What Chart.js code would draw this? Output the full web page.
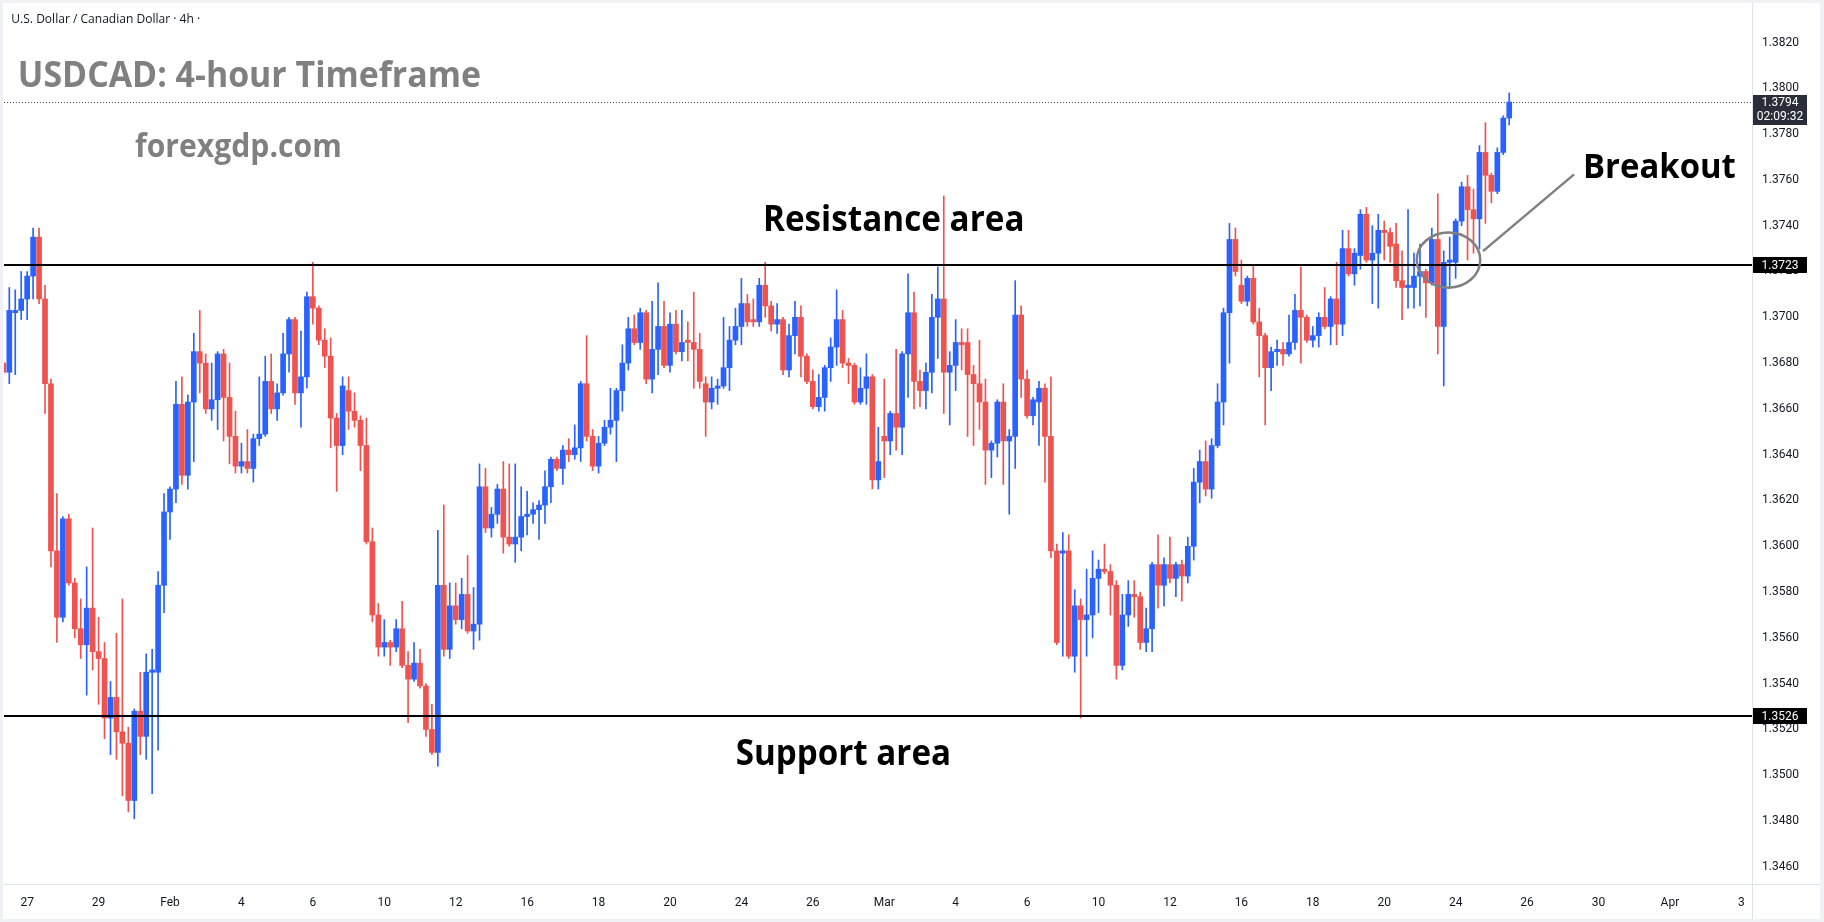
<!DOCTYPE html>
<html>
<head>
<meta charset="utf-8">
<script src="https://cdn.jsdelivr.net/npm/chart.js@4.4.1/dist/chart.umd.min.js"></script>
<style>
html,body{margin:0;padding:0;background:#ffffff;overflow:hidden}
canvas{display:block}
</style>
</head>
<body>
<canvas id="c" width="1824" height="922"></canvas>
<script>
// ---------- DATA (USDCAD, 4h candles) ----------
const opens = [
1.3680,1.3676,1.3702,1.3703,1.3708,1.3718,1.3735,1.3708,1.3671,1.3598,
1.3569,1.3612,1.3584,1.3564,1.3557,1.3573,1.3554,1.3551,1.3525,1.3534,
1.3519,1.3514,1.3489,1.3528,1.3517,1.3545,1.3545,1.3583,1.3615,1.3625,
1.3662,1.3631,1.3663,1.3685,1.3680,1.3660,1.3664,1.3684,1.3665,1.3648,
1.3635,1.3637,1.3634,1.3647,1.3649,1.3672,1.3660,1.3667,1.3684,1.3699,
1.3667,1.3674,1.3709,1.3704,1.3690,1.3683,1.3656,1.3644,1.3668,1.3659,
1.3655,1.3644,1.3602,1.3570,1.3556,1.3558,1.3556,1.3564,1.3548,1.3542,
1.3549,1.3539,1.3520,1.3510,1.3583,1.3555,1.3574,1.3568,1.3579,1.3563,
1.3566,1.3626,1.3608,1.3614,1.3625,1.3604,1.3601,1.3604,1.3613,1.3614,
1.3616,1.3618,1.3626,1.3638,1.3634,1.3642,1.3640,1.3643,1.3671,1.3648,
1.3635,1.3645,1.3652,1.3655,1.3668,1.3680,1.3695,1.3689,1.3702,1.3673,
1.3686,1.3696,1.3679,1.3697,1.3685,1.3690,1.3689,1.3686,1.3671,1.3663,
1.3669,1.3670,1.3678,1.3690,1.3696,1.3706,1.3699,1.3698,1.3714,1.3705,
1.3697,1.3699,1.3677,1.3692,1.3700,1.3683,1.3672,1.3661,1.3665,1.3678,
1.3687,1.3699,1.3680,1.3679,1.3663,1.3669,1.3674,1.3629,1.3648,1.3646,
1.3658,1.3652,1.3684,1.3702,1.3672,1.3668,1.3676,1.3700,1.3708,1.3676,
1.3679,1.3689,1.3689,1.3675,1.3671,1.3663,1.3642,1.3645,1.3663,1.3646,
1.3648,1.3701,1.3673,1.3657,1.3663,1.3669,1.3648,1.3598,1.3597,1.3598,
1.3552,1.3574,1.3568,1.3570,1.3586,1.3590,1.3589,1.3583,1.3548,1.3570,
1.3579,1.3578,1.3558,1.3564,1.3592,1.3583,1.3592,1.3586,1.3592,1.3587,
1.3600,1.3628,1.3637,1.3625,1.3644,1.3663,1.3702,1.3734,1.3714,1.3707,
1.3717,1.3698,1.3692,1.3678,1.3685,1.3686,1.3684,1.3689,1.3703,1.3700,
1.3690,1.3692,1.3700,1.3696,1.3708,1.3697,1.3730,1.3719,1.3727,1.3745,
1.3725,1.3728,1.3738,1.3737,1.3732,1.3716,1.3713,1.3713,1.3718,1.3720,
1.3715,1.3734,1.3696,1.3724,1.3724,1.3742,1.3757,1.3747,1.3743,1.3772,
1.3762,1.3755,1.3772,1.3787];

const highs = [
1.3681,1.3713,1.3712,1.3720,1.3720,1.3739,1.3739,1.3714,1.3673,1.3623,
1.3613,1.3614,1.3586,1.3577,1.3591,1.3608,1.3569,1.3558,1.3541,1.3562,
1.3577,1.3521,1.3529,1.3545,1.3553,1.3555,1.3589,1.3623,1.3626,1.3672,
1.3674,1.3666,1.3693,1.3703,1.3684,1.3680,1.3685,1.3686,1.3680,1.3659,
1.3645,1.3651,1.3649,1.3674,1.3683,1.3684,1.3671,1.3693,1.3700,1.3700,
1.3694,1.3711,1.3724,1.3705,1.3695,1.3691,1.3658,1.3674,1.3674,1.3667,
1.3657,1.3656,1.3608,1.3575,1.3568,1.3559,1.3568,1.3576,1.3554,1.3558,
1.3555,1.3540,1.3531,1.3607,1.3618,1.3584,1.3584,1.3586,1.3596,1.3582,
1.3636,1.3634,1.3617,1.3627,1.3637,1.3636,1.3636,1.3626,1.3624,1.3619,
1.3620,1.3633,1.3639,1.3639,1.3644,1.3647,1.3653,1.3672,1.3692,1.3651,
1.3648,1.3655,1.3669,1.3669,1.3688,1.3700,1.3701,1.3704,1.3703,1.3707,
1.3715,1.3707,1.3702,1.3703,1.3703,1.3698,1.3711,1.3693,1.3674,1.3674,
1.3673,1.3700,1.3696,1.3704,1.3717,1.3710,1.3708,1.3717,1.3724,1.3707,
1.3706,1.3700,1.3697,1.3707,1.3705,1.3684,1.3677,1.3675,1.3679,1.3691,
1.3712,1.3703,1.3682,1.3680,1.3678,1.3684,1.3675,1.3652,1.3673,1.3659,
1.3686,1.3685,1.3719,1.3711,1.3677,1.3680,1.3710,1.3722,1.3753,1.3685,
1.3699,1.3695,1.3695,1.3679,1.3690,1.3673,1.3646,1.3664,1.3671,1.3651,
1.3716,1.3705,1.3677,1.3665,1.3672,1.3671,1.3674,1.3601,1.3606,1.3605,
1.3581,1.3577,1.3590,1.3598,1.3594,1.3601,1.3592,1.3585,1.3579,1.3585,
1.3585,1.3580,1.3573,1.3593,1.3605,1.3595,1.3604,1.3593,1.3594,1.3604,
1.3634,1.3642,1.3646,1.3647,1.3671,1.3704,1.3741,1.3739,1.3725,1.3718,
1.3723,1.3704,1.3693,1.3687,1.3690,1.3689,1.3701,1.3710,1.3722,1.3701,
1.3696,1.3702,1.3713,1.3709,1.3724,1.3738,1.3738,1.3730,1.3747,1.3748,
1.3740,1.3745,1.3742,1.3739,1.3741,1.3729,1.3747,1.3728,1.3732,1.3721,
1.3739,1.3754,1.3729,1.3735,1.3743,1.3759,1.3762,1.3756,1.3775,1.3785,
1.3763,1.3774,1.3788,1.3798];

const lows = [
1.3675,1.3671,1.3675,1.3699,1.3699,1.3708,1.3706,1.3658,1.3591,1.3558,
1.3567,1.3583,1.3560,1.3551,1.3535,1.3546,1.3531,1.3516,1.3509,1.3507,
1.3491,1.3484,1.3481,1.3509,1.3507,1.3492,1.3511,1.3571,1.3603,1.3619,
1.3627,1.3625,1.3637,1.3667,1.3658,1.3655,1.3651,1.3646,1.3636,1.3632,
1.3632,1.3632,1.3628,1.3644,1.3648,1.3658,1.3655,1.3666,1.3676,1.3662,
1.3652,1.3669,1.3697,1.3688,1.3678,1.3643,1.3624,1.3640,1.3651,1.3652,
1.3633,1.3601,1.3567,1.3552,1.3552,1.3548,1.3554,1.3547,1.3523,1.3541,
1.3538,1.3517,1.3509,1.3504,1.3552,1.3551,1.3566,1.3564,1.3562,1.3555,
1.3559,1.3606,1.3604,1.3610,1.3597,1.3600,1.3593,1.3598,1.3605,1.3610,
1.3603,1.3610,1.3619,1.3633,1.3627,1.3637,1.3638,1.3637,1.3646,1.3633,
1.3632,1.3644,1.3649,1.3637,1.3659,1.3677,1.3688,1.3686,1.3671,1.3667,
1.3675,1.3678,1.3676,1.3684,1.3681,1.3681,1.3669,1.3669,1.3648,1.3660,
1.3662,1.3669,1.3668,1.3688,1.3688,1.3696,1.3696,1.3696,1.3700,1.3694,
1.3693,1.3675,1.3674,1.3684,1.3674,1.3671,1.3660,1.3659,1.3659,1.3672,
1.3679,1.3678,1.3671,1.3662,1.3662,1.3662,1.3625,1.3625,1.3630,1.3640,
1.3642,1.3640,1.3665,1.3660,1.3661,1.3660,1.3667,1.3682,1.3658,1.3653,
1.3668,1.3677,1.3648,1.3644,1.3651,1.3627,1.3630,1.3639,1.3627,1.3614,
1.3634,1.3665,1.3656,1.3653,1.3644,1.3628,1.3595,1.3557,1.3552,1.3551,
1.3545,1.3525,1.3552,1.3560,1.3571,1.3588,1.3570,1.3542,1.3546,1.3565,
1.3569,1.3555,1.3554,1.3554,1.3573,1.3574,1.3584,1.3578,1.3576,1.3584,
1.3594,1.3619,1.3622,1.3621,1.3643,1.3653,1.3680,1.3718,1.3706,1.3705,
1.3697,1.3674,1.3653,1.3668,1.3679,1.3679,1.3683,1.3686,1.3680,1.3689,
1.3687,1.3687,1.3695,1.3688,1.3688,1.3692,1.3718,1.3714,1.3721,1.3724,
1.3706,1.3704,1.3725,1.3724,1.3713,1.3699,1.3704,1.3704,1.3705,1.3700,
1.3714,1.3684,1.3670,1.3713,1.3717,1.3740,1.3725,1.3728,1.3730,1.3741,
1.3750,1.3754,1.3771,1.3784];

const closes = [
1.3676,1.3703,1.3703,1.3708,1.3718,1.3735,1.3708,1.3671,1.3598,1.3569,
1.3612,1.3584,1.3564,1.3557,1.3573,1.3554,1.3551,1.3525,1.3534,1.3519,
1.3514,1.3489,1.3528,1.3517,1.3545,1.3546,1.3583,1.3615,1.3625,1.3662,
1.3631,1.3663,1.3685,1.3680,1.3660,1.3664,1.3684,1.3665,1.3648,1.3635,
1.3637,1.3634,1.3647,1.3649,1.3672,1.3660,1.3667,1.3684,1.3699,1.3667,
1.3674,1.3709,1.3704,1.3690,1.3683,1.3656,1.3644,1.3670,1.3659,1.3655,
1.3644,1.3602,1.3570,1.3556,1.3558,1.3556,1.3564,1.3548,1.3542,1.3549,
1.3539,1.3520,1.3510,1.3583,1.3555,1.3574,1.3568,1.3579,1.3563,1.3566,
1.3626,1.3608,1.3614,1.3625,1.3604,1.3601,1.3604,1.3613,1.3614,1.3616,
1.3618,1.3626,1.3638,1.3634,1.3642,1.3640,1.3643,1.3671,1.3648,1.3635,
1.3645,1.3652,1.3655,1.3668,1.3680,1.3695,1.3689,1.3702,1.3673,1.3686,
1.3696,1.3679,1.3697,1.3685,1.3689,1.3689,1.3686,1.3672,1.3663,1.3669,
1.3670,1.3678,1.3690,1.3696,1.3706,1.3698,1.3698,1.3714,1.3705,1.3697,
1.3699,1.3677,1.3692,1.3700,1.3683,1.3672,1.3661,1.3665,1.3678,1.3687,
1.3699,1.3680,1.3679,1.3663,1.3669,1.3674,1.3629,1.3637,1.3646,1.3658,
1.3652,1.3684,1.3702,1.3672,1.3668,1.3676,1.3700,1.3708,1.3676,1.3679,
1.3689,1.3688,1.3675,1.3671,1.3663,1.3642,1.3645,1.3663,1.3646,1.3648,
1.3701,1.3673,1.3657,1.3664,1.3669,1.3648,1.3598,1.3558,1.3598,1.3552,
1.3574,1.3568,1.3570,1.3586,1.3590,1.3589,1.3583,1.3548,1.3570,1.3579,
1.3578,1.3558,1.3564,1.3592,1.3583,1.3592,1.3586,1.3592,1.3587,1.3600,
1.3628,1.3637,1.3625,1.3644,1.3663,1.3702,1.3734,1.3720,1.3707,1.3717,
1.3698,1.3692,1.3678,1.3685,1.3686,1.3684,1.3689,1.3703,1.3700,1.3690,
1.3692,1.3700,1.3696,1.3708,1.3697,1.3730,1.3719,1.3728,1.3745,1.3725,
1.3728,1.3738,1.3737,1.3731,1.3716,1.3713,1.3714,1.3718,1.3720,1.3715,
1.3734,1.3696,1.3724,1.3725,1.3742,1.3757,1.3747,1.3743,1.3772,1.3762,
1.3755,1.3772,1.3787,1.3794];

// time-axis labels and the bar index each one sits on
const tickLabels = ['27','29','Feb','4','6','10','12','16','18','20','24','26','Mar','4','6','10','12','16','18','20','24','26','30','Apr','3'];
const tickBars   = [4,16,28,40,52,64,76,88,100,112,124,136,148,160,172,184,196,208,220,232,244,256,268,280,292];
// price-axis labels
const priceTicks = [1.3460,1.3480,1.3500,1.3520,1.3540,1.3560,1.3580,1.3600,1.3620,1.3640,1.3660,1.3680,1.3700,1.3720,1.3740,1.3760,1.3780,1.3800,1.3820];
// levels
const resistanceLevel = 1.3723;
const supportLevel = 1.3526;
const lastPrice = 1.3794;
const countdown = '02:09:32';

// ---------- styling ----------
const UP = '#2962FF', DOWN = '#EF5350';
const AXIS_TEXT = '#131722';
const X_MIN = 0.11, X_MAX = 293.79;
const Y_MIN = 1.345253, Y_MAX = 1.383594;

const idx = opens.map((_, i) => i);
const colors = idx.map(i => closes[i] >= opens[i] ? UP : DOWN);
const bodyData = idx.map(i => ({x: i, y: [Math.min(opens[i], closes[i]), Math.max(opens[i], closes[i])]}));
const wickData = idx.map(i => ({x: i, y: [lows[i], highs[i]]}));

function drawFit(c, text, family, weight, left, right, baseline, refGlyph, refHeight, color) {
  c.save();
  c.font = weight + ' 100px ' + family;
  const a = c.measureText(refGlyph).actualBoundingBoxAscent || 72;
  const size = 100 * refHeight / a;
  c.font = weight + ' ' + size.toFixed(2) + 'px ' + family;
  const m = c.measureText(text);
  const w = (m.actualBoundingBoxRight + m.actualBoundingBoxLeft) || m.width;
  const sx = (right - left) / w;
  c.translate(left, baseline);
  c.scale(sx, 1);
  c.fillStyle = color;
  c.textAlign = 'left';
  c.textBaseline = 'alphabetic';
  c.fillText(text, m.actualBoundingBoxLeft || 0, 0);
  c.restore();
}

const overlay = {
  id: 'overlay',
  beforeDraw(chart) {
    const c = chart.ctx;
    c.save();
    c.fillStyle = '#ffffff';
    c.fillRect(0, 0, chart.width, chart.height);
    c.fillStyle = '#f0f1f4';
    c.fillRect(0, 0, chart.width, 3);
    c.fillRect(0, 0, 3, chart.height);
    c.fillRect(chart.width - 4, 0, 4, chart.height);
    c.fillRect(0, chart.height - 3, chart.width, 3);
    const a = chart.chartArea;
    c.strokeStyle = '#e0e3eb';
    c.lineWidth = 1;
    c.beginPath();
    c.moveTo(a.right + 0.5, 3); c.lineTo(a.right + 0.5, chart.height - 3);
    c.moveTo(3, a.bottom + 0.5); c.lineTo(chart.width - 4, a.bottom + 0.5);
    c.stroke();
    c.restore();
  },
  beforeDatasetsDraw(chart) {
    const c = chart.ctx, a = chart.chartArea, ys = chart.scales.y;
    c.save();
    const y = Math.round(ys.getPixelForValue(lastPrice)) + 0.5;
    c.strokeStyle = '#4a4e59';
    c.lineWidth = 1;
    c.setLineDash([1, 2]);
    c.beginPath(); c.moveTo(a.left, y); c.lineTo(a.right, y); c.stroke();
    c.restore();
  },
  afterDraw(chart) {
    const c = chart.ctx, a = chart.chartArea, xs = chart.scales.x, ys = chart.scales.y;
    c.save();
    // support / resistance lines
    c.strokeStyle = '#000000';
    c.lineWidth = 2;
    [resistanceLevel, supportLevel].forEach(v => {
      const y = Math.round(ys.getPixelForValue(v));
      c.beginPath(); c.moveTo(a.left, y); c.lineTo(a.right, y); c.stroke();
    });
    // axis price boxes
    const bx = a.right + 1, bw = 54;
    c.font = '12px Roboto';
    c.textAlign = 'center';
    c.textBaseline = 'middle';
    [resistanceLevel, supportLevel].forEach(v => {
      const y = Math.round(ys.getPixelForValue(v));
      c.fillStyle = '#000000';
      c.fillRect(bx, y - 8, bw, 16);
      c.fillStyle = '#ffffff';
      c.fillText(v.toFixed(4), bx + bw / 2, y + 0.5);
    });
    const yl = ys.getPixelForValue(lastPrice);
    c.fillStyle = '#2a2e39';
    c.fillRect(bx, Math.round(yl) - 7, bw, 30);
    c.fillStyle = '#ffffff';
    c.fillText(lastPrice.toFixed(4), bx + bw / 2, yl + 0.5);
    c.fillText(countdown, bx + bw / 2, yl + 15);

    // breakout ellipse and pointer line
    c.strokeStyle = '#808080';
    c.lineWidth = 2.5;
    const ex = xs.getPixelForValue(242.8), ey = ys.getPixelForValue(1.37250);
    const erx = xs.getPixelForValue(248.13) - ex, ery = ys.getPixelForValue(1.37250 - 0.001205) - ey;
    c.beginPath(); c.ellipse(ex, ey, erx, ery, 0, 0, Math.PI * 2); c.stroke();
    c.beginPath();
    c.moveTo(xs.getPixelForValue(248.6), ys.getPixelForValue(1.37289));
    c.lineTo(xs.getPixelForValue(263.9), ys.getPixelForValue(1.37624));
    c.stroke();
    c.restore();

    // texts
    drawFit(c, 'U.S. Dollar / Canadian Dollar \u00b7 4h \u00b7', 'Open Sans', '400', 12.3, 200, 22.7, 'U', 8.6, '#131722');
    drawFit(c, 'USDCAD: 4-hour Timeframe', 'Open Sans', '700', 20.7, 480, 87.3, 'U', 25.6, '#808080');
    drawFit(c, 'forexgdp.com', 'Open Sans', '700', 135, 340, 156.7, 'd', 25, '#808080');
    drawFit(c, 'Resistance area', 'Open Sans', '700', xs.getPixelForValue(128.1), xs.getPixelForValue(171.2), ys.getPixelForValue(1.37378), 'R', 25.7, '#000000');
    drawFit(c, 'Support area', 'Open Sans', '700', xs.getPixelForValue(123.2), xs.getPixelForValue(158.8), ys.getPixelForValue(1.35045), 'S', 26.2, '#000000');
    drawFit(c, 'Breakout', 'Open Sans', '700', xs.getPixelForValue(265.9), xs.getPixelForValue(291.0), ys.getPixelForValue(1.37607), 'B', 24, '#000000');
  }
};

new Chart(document.getElementById('c').getContext('2d'), {
  type: 'bar',
  data: {
    datasets: [
      {label: 'body', data: bodyData, backgroundColor: colors, barThickness: 5, minBarLength: 1, grouped: false, borderWidth: 0, order: 1},
      {label: 'wick', data: wickData, backgroundColor: colors, barThickness: 1, grouped: false, borderWidth: 0, order: 2}
    ]
  },
  options: {
    responsive: false,
    animation: false,
    devicePixelRatio: 1,
    layout: {padding: {left: 4, top: 6, right: 6, bottom: 4}},
    plugins: {legend: {display: false}, tooltip: {enabled: false}, title: {display: false}},
    scales: {
      x: {
        type: 'linear', min: X_MIN, max: X_MAX, offset: false,
        grid: {display: false, drawTicks: false}, border: {display: false},
        afterBuildTicks: s => { s.ticks = tickBars.map(v => ({value: v})); },
        afterFit: s => { s.height = 34; s.paddingLeft = 0; s.paddingRight = 0; },
        ticks: {autoSkip: false, maxRotation: 0, minRotation: 0, padding: 12, color: AXIS_TEXT,
                font: {family: 'Roboto', size: 12}, callback: (v, i) => tickLabels[i]}
      },
      y: {
        type: 'linear', position: 'right', min: Y_MIN, max: Y_MAX,
        grid: {display: false, drawTicks: false}, border: {display: false},
        afterBuildTicks: s => { s.ticks = priceTicks.map(v => ({value: v})); },
        afterFit: s => { s.width = 66; s.paddingTop = 0; s.paddingBottom = 0; },
        ticks: {padding: 10, color: AXIS_TEXT, font: {family: 'Roboto', size: 12},
                callback: v => Number(v).toFixed(4)}
      }
    }
  },
  plugins: [overlay]
});
</script>
</body>
</html>
